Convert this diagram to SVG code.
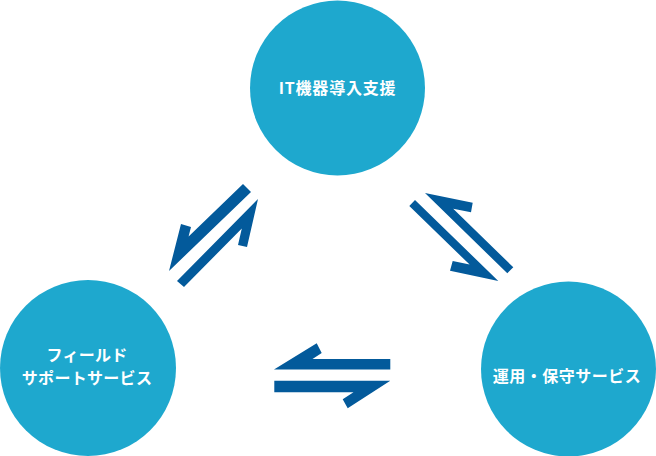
<svg xmlns="http://www.w3.org/2000/svg" width="656" height="456" viewBox="0 0 656 456">
<style>
.node{fill:#1ea8ce}
.lbl{fill:#ffffff;font-family:"Noto Sans CJK JP","Noto Sans",sans-serif;font-weight:bold;text-anchor:middle;font-size:16px}
.arr{fill:#035a9b}
</style>
<rect width="656" height="456" fill="#ffffff"/>
<g id="node-it">
<circle class="node" cx="337.5" cy="88" r="87.5"/>
<text class="lbl" x="337.5" y="93.7" letter-spacing="0.8">IT機器導入支援</text>
</g>
<g id="node-field">
<circle class="node" cx="88" cy="368" r="88"/>
<text class="lbl" x="87" y="360.5" letter-spacing="0.3">フィールド</text>
<text class="lbl" x="87" y="384" letter-spacing="0.3">サポートサービス</text>
</g>
<g id="node-ops">
<circle class="node" cx="568.5" cy="369" r="87.5"/>
<text class="lbl" x="567" y="381.5" letter-spacing="0.5">運用・保守サービス</text>
</g>
<g id="connectors">
<polygon class="arr" points="243,184 251,192 169,271 181,224 191,227 188.6,236.4"/>
<polygon class="arr" points="258,199 247,247 238,245 241.8,228.5 184,287 177,281"/>
<polygon class="arr" points="425,193 472.7,202.7 471,212.3 453.2,208.7 513.3,267.3 507.3,273.3"/>
<polygon class="arr" points="415,200 498.3,281 450,270.7 452.7,261 469.6,264.6 409.3,206"/>
<polygon class="arr" points="274,369.5 316.7,343.3 321.7,353 312.5,359 390.3,359 390.3,369.5"/>
<polygon class="arr" points="274.3,380.7 390.3,380.7 347.7,408.3 342.7,399.3 353.5,392.3 274.3,392.3"/>
</g>
</svg>
